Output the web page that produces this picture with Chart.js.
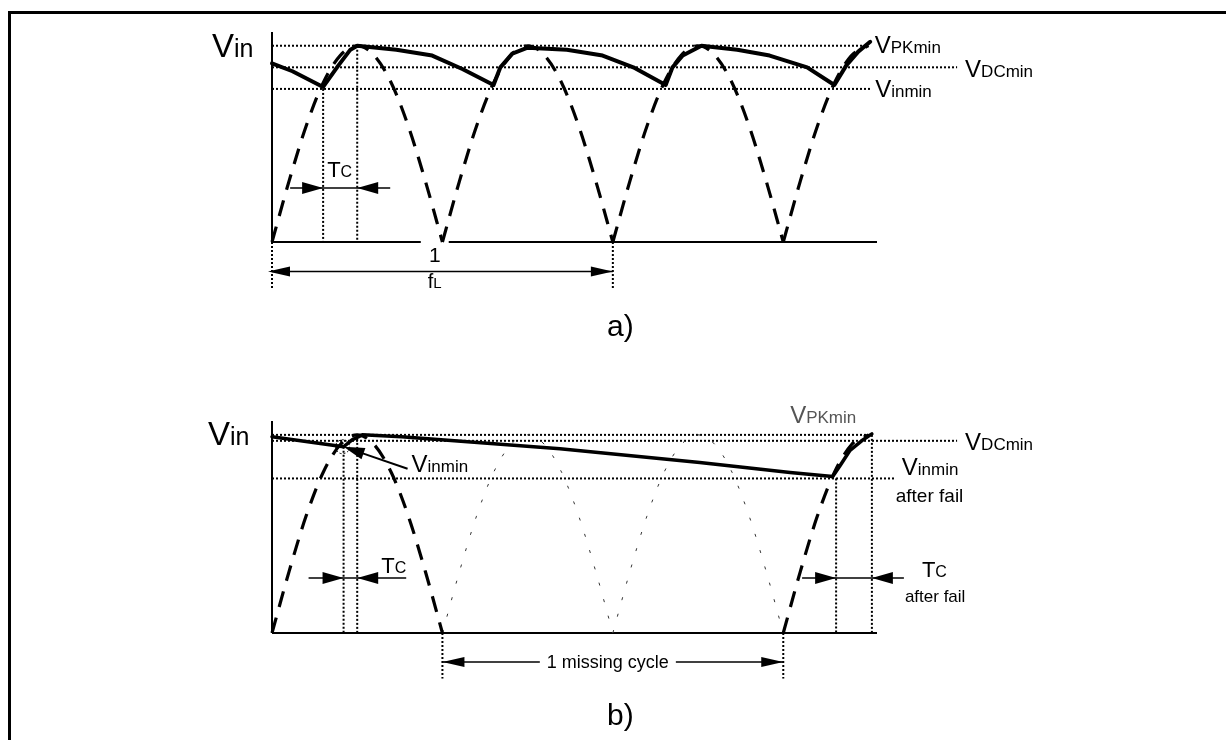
<!DOCTYPE html>
<html>
<head>
<meta charset="utf-8">
<script src="https://cdn.jsdelivr.net/npm/chart.js@4.4.1/dist/chart.umd.min.js"></script>
<style>
  html, body { margin: 0; padding: 0; background: #fff; }
  body { width: 1226px; height: 740px; position: relative; overflow: hidden; }
  #frame { position: absolute; left: 8px; top: 11px; width: 1240px; height: 760px;
           border-left: 3px solid #000; border-top: 3px solid #000; }
  canvas { position: absolute; left: 0; }
  #chartA { top: 0; }
  #chartB { top: 370px; }
</style>
</head>
<body>
<div id="frame"></div>
<canvas id="chartA" width="1226" height="370"></canvas>
<canvas id="chartB" width="1226" height="370"></canvas>
<script>
const FONT = '"Liberation Sans", Arial, Helvetica, sans-serif';

// time in ms (50 Hz line -> 10 ms per half wave), voltage in % of VPKmin
const xMax = 35.5;
const yMax = 107;

// one rectified half wave
const halfWaveT = [0, 1, 2, 3, 4, 5, 6, 7, 8, 9, 10];
const halfWaveV = [0, 31, 59, 81, 95, 100, 95, 81, 59, 31, 0];
const traceEnd = 35.2;

// a) all half waves dashed
const arcStartsA = [0, 10, 20, 30];
// b) the two half waves of the missing cycle are only hinted
const arcStartsB = [0, 30];
const missingStartsB = [10, 20];

// bulk capacitor voltage (solid trace)
const capTA = [0, 1.2, 3.0, 3.9, 4.6, 5.0, 7.3, 9.4, 11.2, 13.0, 13.4, 14.1, 15.0, 17.3, 19.4, 21.2, 23.1, 23.5, 24.1, 25.2, 27.3, 29.2, 31.4, 33.0, 33.7, 34.4, 35.1];
const capVA = [91, 87, 79, 90, 98, 100, 98, 95, 88, 80, 89, 96, 99, 98, 95, 89, 80, 89, 95, 100, 98, 95, 89, 80, 90, 97, 102];
const capTB = [0, 4.2, 4.7, 5.3, 7.6, 16.9, 25.1, 30.4, 32.9, 33.3, 33.9, 34.6, 35.2];
const capVB = [99, 94, 97.5, 100, 99, 93, 86, 81, 79, 84, 92, 97, 100.5];

// horizontal levels: VPKmin, VDCmin, Vinmin
const levelVA = [100, 89, 78];
const levelEndA = [34.9, 40.2, 35.1];
const levelVB = [100, 97, 78];
const levelEndB = [35.1, 40.2, 36.6];

// conduction time Tc: [start, end] and the level each dotted drop starts from
const tcTA = [3.0, 5.0];
const tcVA = [78, 100];
const tcTB = [4.2, 5.0];
const tcVB = [94, 100];
const tcTBFail = [33.1, 35.2];
const tcVBFail = [78, 100];

const periodT = [0, 20];    // 1/fL
const missingT = [10, 30];  // 1 missing cycle

function pts(ts, vs) {
    return ts.map((t, i) => ({ x: t, y: vs[i] }));
}

function arcPoints(start) {
    return halfWaveT.map((t, i) => ({ x: start + t, y: halfWaveV[i] })).filter(p => p.x <= traceEnd);
}

function seg(x1, y1, x2, y2) {
    return [{ x: x1, y: y1 }, { x: x2, y: y2 }];
}

const solid = { borderColor: '#000', borderWidth: 4, pointRadius: 0, clip: false, borderJoinStyle: 'round', borderCapStyle: 'round' };
const dashed = { borderColor: '#000', borderWidth: 3.2, borderDash: [16, 11], cubicInterpolationMode: 'monotone', pointRadius: 0, clip: false };
const hint = { borderColor: '#333', borderWidth: 1, borderDash: [3, 14], cubicInterpolationMode: 'monotone', pointRadius: 0, clip: false };
const dotted = { borderColor: '#000', borderWidth: 2, borderDash: [2, 2], pointRadius: 0, clip: false };
const axis = { borderColor: '#000', borderWidth: 2, pointRadius: 0, clip: false };

// ---------- drawing helpers for the annotations ----------
function label(ctx, x, y, parts, color) {
    ctx.save();
    ctx.fillStyle = color || '#000';
    ctx.textAlign = 'left';
    ctx.textBaseline = 'alphabetic';
    parts.forEach(([txt, size]) => {
        ctx.font = size + 'px ' + FONT;
        ctx.fillText(txt, x, y);
        x += ctx.measureText(txt).width;
    });
    ctx.restore();
}

function partsWidth(ctx, parts) {
    let w = 0;
    parts.forEach(([txt, size]) => {
        ctx.font = size + 'px ' + FONT;
        w += ctx.measureText(txt).width;
    });
    return w;
}

function line(ctx, x1, y1, x2, y2, w) {
    ctx.lineWidth = w;
    ctx.beginPath();
    ctx.moveTo(x1, y1);
    ctx.lineTo(x2, y2);
    ctx.stroke();
}

function head(ctx, x, y, ux, uy, len, half) {
    const bx = x - ux * len, by = y - uy * len;
    ctx.beginPath();
    ctx.moveTo(x, y);
    ctx.lineTo(bx - uy * half, by + ux * half);
    ctx.lineTo(bx + uy * half, by - ux * half);
    ctx.closePath();
    ctx.fill();
}

// |-> <-| style marker for Tc
function tcArrow(ctx, x1, x2, y, extL, extR) {
    line(ctx, x1 - extL, y, x2 + extR, y, 1.5);
    head(ctx, x1, y, 1, 0, 21, 6);
    head(ctx, x2, y, -1, 0, 21, 6);
}

function tcLabel(ctx, x, y) {
    label(ctx, x, y, [['T', 22], ['C', 16]]);
}

function makeChart(id, datasets, pad, notes) {
    return new Chart(document.getElementById(id), {
        type: 'line',
        data: { datasets: datasets },
        options: {
            responsive: false,
            animation: false,
            devicePixelRatio: 1,
            events: [],
            layout: { padding: pad },
            scales: {
                x: { type: 'linear', min: 0, max: xMax, display: false },
                y: { type: 'linear', min: 0, max: yMax, display: false }
            },
            plugins: { legend: { display: false }, tooltip: { enabled: false } }
        },
        plugins: [{ id: 'notes', afterDraw: notes }]
    });
}

// ---------- a) normal operation ----------
const fLabelT = 9.55;   // centre of the 1/fL label, the axis is broken under it

const datasetsA = [
    { ...solid, data: pts(capTA, capVA) },
    ...arcStartsA.map(s => ({ ...dashed, data: arcPoints(s) })),
    ...levelVA.map((v, i) => ({ ...dotted, data: seg(0, v, levelEndA[i], v) })),
    ...tcTA.map((t, i) => ({ ...dotted, data: seg(t, tcVA[i], t, 0) })),
    ...periodT.map(t => ({ ...dotted, data: seg(t, 0, t, -24) })),
    { ...axis, data: seg(0, 0, 0, yMax) },
    { ...axis, data: [{ x: 0, y: 0 }, { x: fLabelT - 0.82, y: 0 }, { x: fLabelT, y: null }, { x: fLabelT + 0.82, y: 0 }, { x: xMax, y: 0 }] }
];

makeChart('chartA', datasetsA, { left: 272, right: 349, top: 32, bottom: 128 }, function (chart) {
    const ctx = chart.ctx;
    const X = v => chart.scales.x.getPixelForValue(v);
    const Y = v => chart.scales.y.getPixelForValue(v);
    ctx.save();
    ctx.strokeStyle = '#000';
    ctx.fillStyle = '#000';

    label(ctx, 212, Y(yMax) + 25, [['V', 33], ['in', 25]]);
    label(ctx, X(levelEndA[0]) + 8, Y(levelVA[0]) + 7, [['V', 24], ['PKmin', 17]]);
    label(ctx, X(levelEndA[1]) + 8, Y(levelVA[1]) + 10, [['V', 24], ['DCmin', 17]]);
    label(ctx, X(levelEndA[2]) + 5, Y(levelVA[2]) + 8, [['V', 24], ['inmin', 17]]);

    const yTc = Y(27.5);
    tcArrow(ctx, X(tcTA[0]), X(tcTA[1]), yTc, 33, 33);
    tcLabel(ctx, X(tcTA[0]) + 4, yTc - 11);

    // 1/fL
    const yP = Y(-15);
    line(ctx, X(periodT[0]), yP, X(periodT[1]), yP, 1.5);
    head(ctx, X(periodT[0]) - 4, yP, -1, 0, 22, 5);
    head(ctx, X(periodT[1]), yP, 1, 0, 22, 5);
    const cx = X(fLabelT);
    ctx.textAlign = 'center';
    ctx.font = '21px ' + FONT;
    ctx.fillText('1', cx, Y(0) + 20);
    const fl = [['f', 20], ['L', 15]];
    label(ctx, cx - partsWidth(ctx, fl) / 2, yP + 17, fl);

    ctx.font = '30px ' + FONT;
    ctx.textAlign = 'left';
    ctx.fillText('a)', 607, 336);
    ctx.restore();
});

// ---------- b) one missing line cycle ----------
const datasetsB = [
    { ...solid, borderWidth: 3.5, data: pts(capTB, capVB) },
    ...arcStartsB.map(s => ({ ...dashed, data: arcPoints(s) })),
    ...missingStartsB.map(s => ({ ...hint, data: arcPoints(s) })),
    ...levelVB.map((v, i) => ({ ...dotted, data: seg(0, v, levelEndB[i], v) })),
    ...tcTB.map((t, i) => ({ ...dotted, data: seg(t, tcVB[i], t, 0) })),
    ...tcTBFail.map((t, i) => ({ ...dotted, data: seg(t, tcVBFail[i], t, 0) })),
    ...missingT.map(t => ({ ...dotted, data: seg(t, 0, t, -23) })),
    { ...axis, data: seg(0, 0, 0, yMax) },
    { ...axis, data: seg(0, 0, xMax, 0) }
];

makeChart('chartB', datasetsB, { left: 272, right: 349, top: 51, bottom: 107 }, function (chart) {
    const ctx = chart.ctx;
    const X = v => chart.scales.x.getPixelForValue(v);
    const Y = v => chart.scales.y.getPixelForValue(v);
    ctx.save();
    ctx.strokeStyle = '#000';
    ctx.fillStyle = '#000';

    label(ctx, 208, Y(yMax) + 24, [['V', 33], ['in', 25]]);
    label(ctx, X(levelEndB[0]) - 80, Y(levelVB[0]) - 12, [['V', 24], ['PKmin', 17]], '#555');
    label(ctx, X(levelEndB[1]) + 8, Y(levelVB[1]) + 9, [['V', 24], ['DCmin', 17]]);
    label(ctx, X(levelEndB[2]) + 6, Y(levelVB[2]) - 3, [['V', 24], ['inmin', 17]]);
    label(ctx, X(levelEndB[2]), Y(levelVB[2]) + 24, [['after fail', 19]]);

    // pointer to the first valley
    const tipX = X(tcTB[0]), tipY = Y(tcVB[0]);
    ctx.save();
    ctx.lineWidth = 1;
    ctx.setLineDash([2, 2]);
    ctx.beginPath();
    ctx.arc(tipX - 1, tipY, 7, 0, Math.PI * 2);
    ctx.stroke();
    ctx.restore();
    const tailX = tipX + 64, tailY = tipY + 22;
    const len = Math.hypot(tailX - tipX, tailY - tipY);
    line(ctx, tailX, tailY, tipX + (tailX - tipX) * 18 / len, tipY + (tailY - tipY) * 18 / len, 2);
    head(ctx, tipX, tipY, (tipX - tailX) / len, (tipY - tailY) / len, 21, 6);
    label(ctx, tipX + 68, tipY + 25, [['V', 24], ['inmin', 17]]);

    const yTc = Y(27.8);
    tcArrow(ctx, X(tcTB[0]), X(tcTB[1]), yTc, 35, 49);
    tcLabel(ctx, X(tcTB[1]) + 24, yTc - 5);
    tcArrow(ctx, X(tcTBFail[0]), X(tcTBFail[1]), yTc, 34, 32);
    tcLabel(ctx, X(tcTBFail[1]) + 50, yTc - 1);
    label(ctx, X(tcTBFail[1]) + 33, yTc + 24, [['after fail', 17]]);

    // 1 missing cycle
    const yM = Y(-14.6);
    const txt = '1 missing cycle';
    ctx.font = '18px ' + FONT;
    const tw = ctx.measureText(txt).width;
    const mid = (X(missingT[0]) + X(missingT[1])) / 2 - 5;
    line(ctx, X(missingT[0]), yM, mid - tw / 2 - 7, yM, 1.5);
    line(ctx, mid + tw / 2 + 7, yM, X(missingT[1]), yM, 1.5);
    head(ctx, X(missingT[0]), yM, -1, 0, 22, 5);
    head(ctx, X(missingT[1]), yM, 1, 0, 22, 5);
    ctx.textAlign = 'center';
    ctx.fillText(txt, mid, yM + 6);

    ctx.font = '30px ' + FONT;
    ctx.textAlign = 'left';
    ctx.fillText('b)', 607, 355);
    ctx.restore();
});
</script>
</body>
</html>
